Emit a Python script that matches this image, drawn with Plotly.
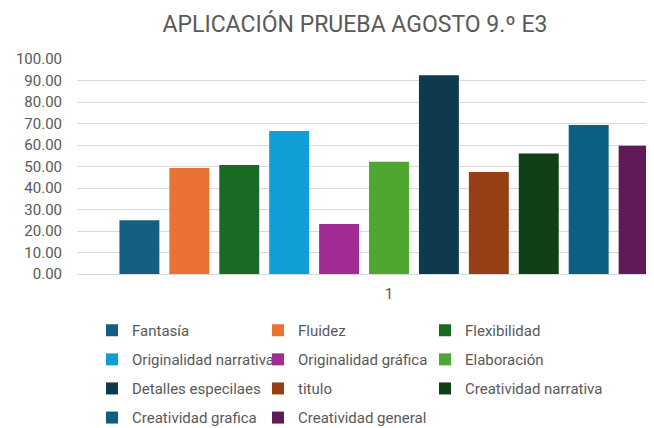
"""Grouped bar chart: APLICACIÓN PRUEBA AGOSTO 9.º E3 (Excel-style, right edge cropped)."""

import plotly.graph_objects as go

CATEGORY = ["1"]
SERIES = [
    "Fantasía", "Fluidez", "Flexibilidad",
    "Originalidad narrativa", "Originalidad gráfica", "Elaboración",
    "Detalles especilaes", "titulo", "Creatividad narrativa",
    "Creatividad grafica", "Creatividad general",
]
VALUES = [25.0, 49.3, 50.7, 66.5, 23.3, 52.2, 92.5, 47.4, 56.1, 69.3, 59.7]
Y_TICKS = [0, 10, 20, 30, 40, 50, 60, 70, 80, 90, 100]

COLORS = [
    "#156082", "#E97132", "#196B24", "#0F9ED5", "#A02B93", "#4EA72E",
    "#0D3A4E", "#973F14", "#0F4016", "#0B5F80", "#601A58",
]
TEXT = "#595959"
GRID = "#D9D9D9"
FONT = "Roboto, Arial, sans-serif"

# page body has an 8px margin, so the figure is 8px smaller than the window
W, H = 646, 420
PLOT_L, PLOT_T, PLOT_B = 69, 51, 266

fig = go.Figure()

# legend column per series (3 columns, row-major like Excel)
for i, (name, val) in enumerate(zip(SERIES, VALUES)):
    col = i % 3
    fig.add_trace(go.Bar(
        x=CATEGORY, y=[val], name=name,
        marker=dict(color=COLORS[i], line=dict(width=0)),
        legend="legend" if col == 0 else f"legend{col + 1}",
        legendgroup=name,
        hoverinfo="name+y",
    ))

# full category spans 624px starting at PLOT_L; chart is cut at the right edge
cat_px = 624
x_right = -0.5 + (W - PLOT_L) / cat_px

legend_common = dict(
    orientation="v", xref="container", yref="container",
    yanchor="top", xanchor="left",
    font=dict(family=FONT, size=15, color=TEXT),
    bgcolor="rgba(0,0,0,0)", tracegroupgap=6.6,
)
leg_top = 1 - 306 / H

fig.update_layout(
    width=W, height=H,
    paper_bgcolor="white", plot_bgcolor="white",
    font=dict(family=FONT, color=TEXT, size=15),
    margin=dict(l=PLOT_L, r=0, t=PLOT_T, b=H - PLOT_B, pad=0, autoexpand=False),
    title=dict(
        text="APLICACIÓN PRUEBA AGOSTO 9.º E3",
        x=347 / W, xanchor="center", xref="container",
        y=1 - 16 / H, yanchor="middle", yref="container",
        font=dict(family=FONT, size=23, color=TEXT),
    ),
    barmode="group", bargap=0.12, bargroupgap=0.2,
    showlegend=True,
    legend=dict(x=84 / W, y=leg_top, **legend_common),
    legend2=dict(x=250 / W, y=leg_top, **legend_common),
    legend3=dict(x=417 / W, y=leg_top, **legend_common),
    xaxis=dict(
        type="category", range=[-0.5, x_right],
        showgrid=False, showline=True, linecolor=GRID, linewidth=1,
        ticks="", tickfont=dict(family=FONT, size=15, color=TEXT),
        ticklabelstandoff=6,
    ),
    yaxis=dict(
        range=[0, 100], tickvals=Y_TICKS, tickformat=".2f",
        showgrid=True, gridcolor=GRID, gridwidth=1,
        zeroline=False, showline=False, ticks="",
        tickfont=dict(family=FONT, size=15, color=TEXT),
        ticklabelstandoff=14,
    ),
)

fig.write_html("out.html")
